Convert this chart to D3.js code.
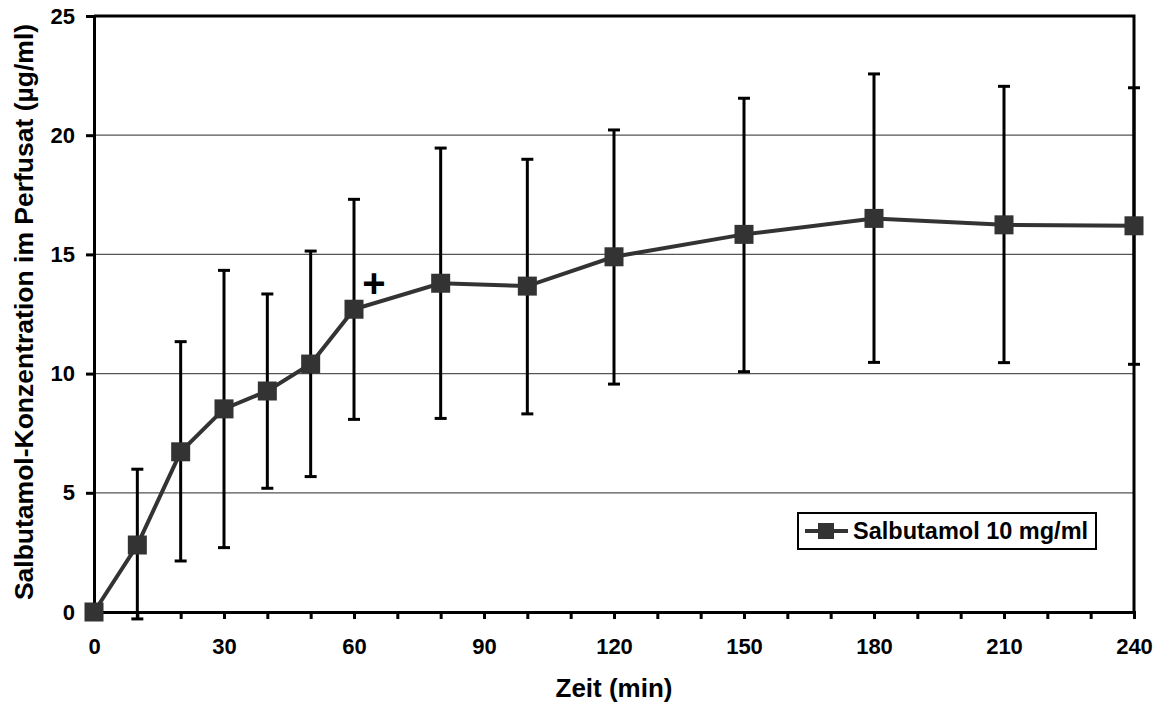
<!DOCTYPE html>
<html>
<head>
<meta charset="utf-8">
<script src="https://cdn.jsdelivr.net/npm/d3@7"></script>
<style>
  body { margin: 0; background: #fff; }
  text { font-family: "Liberation Sans", Arial, sans-serif; font-weight: bold; }
</style>
</head>
<body>
<svg></svg>
<script>
// Salbutamol concentration in perfusate over time (mean +/- SD)
var times = [0, 10, 20, 30, 40, 50, 60, 80, 100, 120, 150, 180, 210, 240];
var means = [0, 2.81, 6.72, 8.52, 9.27, 10.40, 12.70, 13.79, 13.67, 14.90, 15.84, 16.51, 16.24, 16.20];
var upper = [0, 5.99, 11.34, 14.33, 13.34, 15.14, 17.31, 19.46, 18.99, 20.22, 21.55, 22.57, 22.05, 21.99];
var lower = [0, -0.29, 2.14, 2.70, 5.19, 5.68, 8.08, 8.12, 8.31, 9.56, 10.08, 10.47, 10.46, 10.39];
var xTicks = d3.range(0, 241, 10);
var xLabels = [0, 30, 60, 90, 120, 150, 180, 210, 240];
var yTicks = [0, 5, 10, 15, 20, 25];
var gridValues = [5, 10, 15, 20];
var plusMark = [64.6, 13.8]; // significance mark "+"

var svgWidth = 1163, svgHeight = 704;
var plotLeft = 94, plotRight = 1134, plotTop = 16, plotBottom = 612;

var svg = d3.select('svg')
    .attr('width', svgWidth)
    .attr('height', svgHeight);

var xScale = d3.scaleLinear().domain([0, 240]).range([plotLeft, plotRight]);
var yScale = d3.scaleLinear().domain([0, 25]).range([plotBottom, plotTop]);

// gridlines
svg.selectAll('line.grid')
    .data(gridValues)
    .enter()
    .append('line')
    .attr('class', 'grid')
    .attr('x1', plotLeft).attr('x2', plotRight)
    .attr('y1', function(d) { return yScale(d); })
    .attr('y2', function(d) { return yScale(d); })
    .attr('stroke', '#555')
    .attr('stroke-width', 1.2);

// frame top + right
svg.append('path')
    .attr('d', 'M' + plotLeft + ',' + plotTop + 'H' + plotRight + 'V' + plotBottom)
    .attr('fill', 'none')
    .attr('stroke', '#000')
    .attr('stroke-width', 3);

// axes
var xAxis = d3.axisBottom(xScale)
    .tickValues(xTicks)
    .tickSize(7)
    .tickPadding(19)
    .tickFormat(function(d) { return xLabels.indexOf(d) >= 0 ? d : ''; });

var gx = svg.append('g')
    .attr('transform', 'translate(0,' + plotBottom + ')')
    .call(xAxis);

var yAxis = d3.axisLeft(yScale)
    .tickValues(yTicks)
    .tickSize(8)
    .tickPadding(11);

var gy = svg.append('g')
    .attr('transform', 'translate(' + plotLeft + ',0)')
    .call(yAxis);

[gx, gy].forEach(function(g) {
    g.select('.domain').attr('stroke', '#000').attr('stroke-width', 3);
    g.selectAll('.tick line').attr('stroke', '#000').attr('stroke-width', 3);
    g.selectAll('.tick text')
        .attr('fill', '#000')
        .style('font-size', '22px')
        .style('font-family', '"Liberation Sans", Arial, sans-serif')
        .style('font-weight', 'bold');
});

// error bars
var capW = 6;
var err = svg.append('g').attr('stroke', '#000').attr('stroke-width', 3);
times.forEach(function(t, i) {
    if (upper[i] === lower[i]) return;
    var x = xScale(t);
    err.append('line').attr('x1', x).attr('x2', x)
        .attr('y1', yScale(upper[i])).attr('y2', yScale(lower[i]));
    err.append('line').attr('x1', x - capW).attr('x2', x + capW)
        .attr('y1', yScale(upper[i])).attr('y2', yScale(upper[i]));
    err.append('line').attr('x1', x - capW).attr('x2', x + capW)
        .attr('y1', yScale(lower[i])).attr('y2', yScale(lower[i]));
});

// line
var line = d3.line()
    .x(function(d, i) { return xScale(times[i]); })
    .y(function(d) { return yScale(d); });

svg.append('path')
    .datum(means)
    .attr('d', line)
    .attr('fill', 'none')
    .attr('stroke', '#333')
    .attr('stroke-width', 4);

// square markers
var ms = 19;
svg.selectAll('rect.marker')
    .data(means)
    .enter()
    .append('rect')
    .attr('class', 'marker')
    .attr('x', function(d, i) { return xScale(times[i]) - ms / 2; })
    .attr('y', function(d) { return yScale(d) - ms / 2; })
    .attr('width', ms)
    .attr('height', ms)
    .attr('fill', '#333');

// "+" annotation
svg.append('text')
    .attr('x', xScale(plusMark[0]))
    .attr('y', yScale(plusMark[1]))
    .attr('text-anchor', 'middle')
    .attr('dominant-baseline', 'central')
    .style('font-size', '40px')
    .text('+');

// axis titles
svg.append('text')
    .attr('x', 614)
    .attr('y', 697)
    .attr('text-anchor', 'middle')
    .style('font-size', '26px')
    .text('Zeit (min)');

svg.append('text')
    .attr('transform', 'translate(33,' + 312 + ') rotate(-90)')
    .attr('text-anchor', 'middle')
    .style('font-size', '26.5px')
    .text('Salbutamol-Konzentration im Perfusat (µg/ml)');

// legend
var lg = svg.append('g');
lg.append('rect')
    .attr('x', 798).attr('y', 513)
    .attr('width', 298).attr('height', 36)
    .attr('fill', '#fff')
    .attr('stroke', '#000')
    .attr('stroke-width', 2);
lg.append('line')
    .attr('x1', 805).attr('x2', 848)
    .attr('y1', 531).attr('y2', 531)
    .attr('stroke', '#333').attr('stroke-width', 4);
lg.append('rect')
    .attr('x', 818).attr('y', 523)
    .attr('width', 16).attr('height', 16)
    .attr('fill', '#333');
lg.append('text')
    .attr('x', 853).attr('y', 539)
    .style('font-size', '23.5px')
    .text('Salbutamol 10 mg/ml');
</script>
</body>
</html>
